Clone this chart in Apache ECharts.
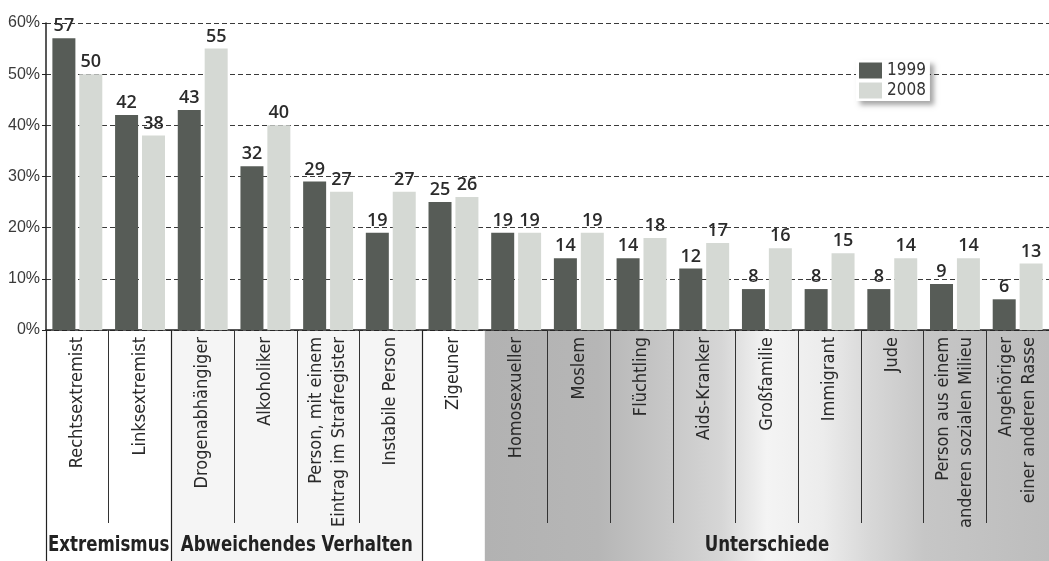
<!DOCTYPE html>
<html>
<head>
<meta charset="utf-8">
<script src="https://cdn.jsdelivr.net/npm/echarts@6/dist/echarts.min.js"></script>
<style>
html, body { margin: 0; padding: 0; background: #fff; }
#main { width: 1049px; height: 561px; }
</style>
</head>
<body>
<div id="main"></div>
<script>
// Kategorien + Werte (in %)
var categories = [
  "Rechtsextremist", "Linksextremist", "Drogenabhängiger", "Alkoholiker",
  "Person, mit einem\nEintrag im Strafregister", "Instabile Person", "Zigeuner",
  "Homosexueller", "Moslem", "Flüchtling", "Aids-Kranker", "Großfamilie",
  "Immigrant", "Jude", "Person aus einem\nanderen sozialen Milieu",
  "Angehöriger\neiner anderen Rasse"
];
var values1999 = [57, 42, 43, 32, 29, 19, 25, 19, 14, 14, 12, 8, 8, 8, 9, 6];
var values2008 = [50, 38, 55, 40, 27, 27, 26, 19, 19, 18, 17, 16, 15, 14, 14, 13];
var yMin = 0, yMax = 60, yStep = 10;

// Gruppen unter der Achse (erste / letzte Kategorie)
var groupNames = ["Extremismus", "Abweichendes Verhalten", "Unterschiede"];
var groupFirst = [0, 2, 7];
var groupLast = [1, 5, 15];

var narrow = "'DejaVu Sans Condensed', 'Liberation Sans Narrow', sans-serif";

var chart = echarts.init(document.getElementById("main"));
chart.setOption({
  animation: false,
  grid: { left: 46, top: 23, width: 1008, bottom: 231, containLabel: false },
  legend: {
    data: ["1999", "2008"],
    orient: "vertical",
    left: 856,
    top: 60,
    itemWidth: 23,
    itemHeight: 16,
    itemGap: 3,
    padding: [2, 4, 2, 3],
    backgroundColor: "#fff",
    shadowColor: "rgba(0,0,0,0.35)",
    shadowBlur: 5,
    shadowOffsetX: 4,
    shadowOffsetY: 4,
    textStyle: { fontSize: 17, color: "#333", fontFamily: narrow },
    icon: "rect"
  },
  xAxis: {
    type: "category",
    data: categories,
    axisLine: { lineStyle: { color: "#222", width: 1.5 } },
    axisTick: {
      show: true,
      length: 193,
      interval: function (i) { return i !== 7; },
      lineStyle: { color: "#333", width: 1 }
    },
    axisLabel: {
      interval: 0,
      rotate: 90,
      margin: 7,
      fontSize: 18,
      lineHeight: 23,
      color: "#2a2a2a",
      fontFamily: narrow
    }
  },
  yAxis: {
    type: "value",
    min: yMin,
    max: yMax,
    interval: yStep,
    axisLine: { show: true, lineStyle: { color: "#222", width: 1.5 } },
    axisTick: { show: true, length: 4, lineStyle: { color: "#222" } },
    axisLabel: {
      formatter: "{value}%",
      fontSize: 16,
      margin: 6,
      color: "#3a3a3a",
      fontFamily: "'Liberation Sans', sans-serif"
    },
    splitLine: { lineStyle: { color: "#3a3a3a", type: [5, 3], width: 1 } }
  },
  series: [
    {
      name: "1999",
      type: "bar",
      data: values1999,
      barWidth: 23,
      barGap: "17%",
      itemStyle: { color: "#575c57" },
      label: {
        show: true, position: "top", distance: 3,
        fontSize: 18, fontWeight: 600, color: "#2b2b2b",
        fontFamily: "'Open Sans', sans-serif"
      }
    },
    {
      name: "2008",
      type: "bar",
      data: values2008,
      barWidth: 23,
      itemStyle: { color: "#d5d9d4" },
      label: {
        show: true, position: "top", distance: 3,
        fontSize: 18, fontWeight: 600, color: "#2b2b2b",
        fontFamily: "'Open Sans', sans-serif"
      }
    }
  ]
});

// Positionen aus den Achsen holen
var c0 = chart.convertToPixel({ xAxisIndex: 0 }, categories[0]);
var c1 = chart.convertToPixel({ xAxisIndex: 0 }, categories[1]);
var band = c1 - c0;
function edge(i) { return c0 + (i - 0.5) * band; }
var yAxisPx = chart.convertToPixel({ yAxisIndex: 0 }, 0);
var H = chart.getHeight();
var W = chart.getWidth();

var els = [];
// Hintergründe
els.push({
  type: "rect", z: -1,
  shape: { x: edge(groupFirst[1]), y: yAxisPx, width: edge(groupLast[1] + 1) - edge(groupFirst[1]), height: H - yAxisPx },
  style: { fill: "#f5f5f5" }
});
els.push({
  type: "rect", z: -1,
  shape: { x: edge(groupFirst[2]), y: yAxisPx, width: W - edge(groupFirst[2]), height: H - yAxisPx },
  style: {
    fill: new echarts.graphic.LinearGradient(0, 0, 1, 0, [
      { offset: 0, color: "#b2b2b2" },
      { offset: 0.2, color: "#b6b6b6" },
      { offset: 0.3, color: "#c4c4c4" },
      { offset: 0.42, color: "#d6d6d6" },
      { offset: 0.5, color: "#f4f4f4" },
      { offset: 0.6, color: "#ececec" },
      { offset: 0.68, color: "#d8d8d8" },
      { offset: 0.78, color: "#c6c6c6" },
      { offset: 1, color: "#bdbdbd" }
    ])
  }
});
// Gruppentrennlinien (volle Höhe)
[groupFirst[0], groupFirst[1], groupLast[1] + 1].forEach(function (i) {
  var x = Math.round(edge(i)) + 0.5;
  els.push({
    type: "line", z: 5,
    shape: { x1: x, y1: yAxisPx, x2: x, y2: H },
    style: { stroke: "#222", lineWidth: 1.2 }
  });
});
// Gruppennamen (schmal gestaucht wie im Original)
groupNames.forEach(function (name, g) {
  var x0 = edge(groupFirst[g]);
  var x1 = Math.min(edge(groupLast[g] + 1), W + 5);
  els.push({
    type: "text", z: 5,
    x: (x0 + x1) / 2,
    y: 545,
    scaleX: 0.84,
    style: {
      text: name,
      textAlign: "center",
      textVerticalAlign: "middle",
      fontSize: 22,
      fontWeight: "bold",
      fontFamily: narrow,
      fill: "#222"
    }
  });
});
chart.setOption({ graphic: { elements: els } });
</script>
</body>
</html>
